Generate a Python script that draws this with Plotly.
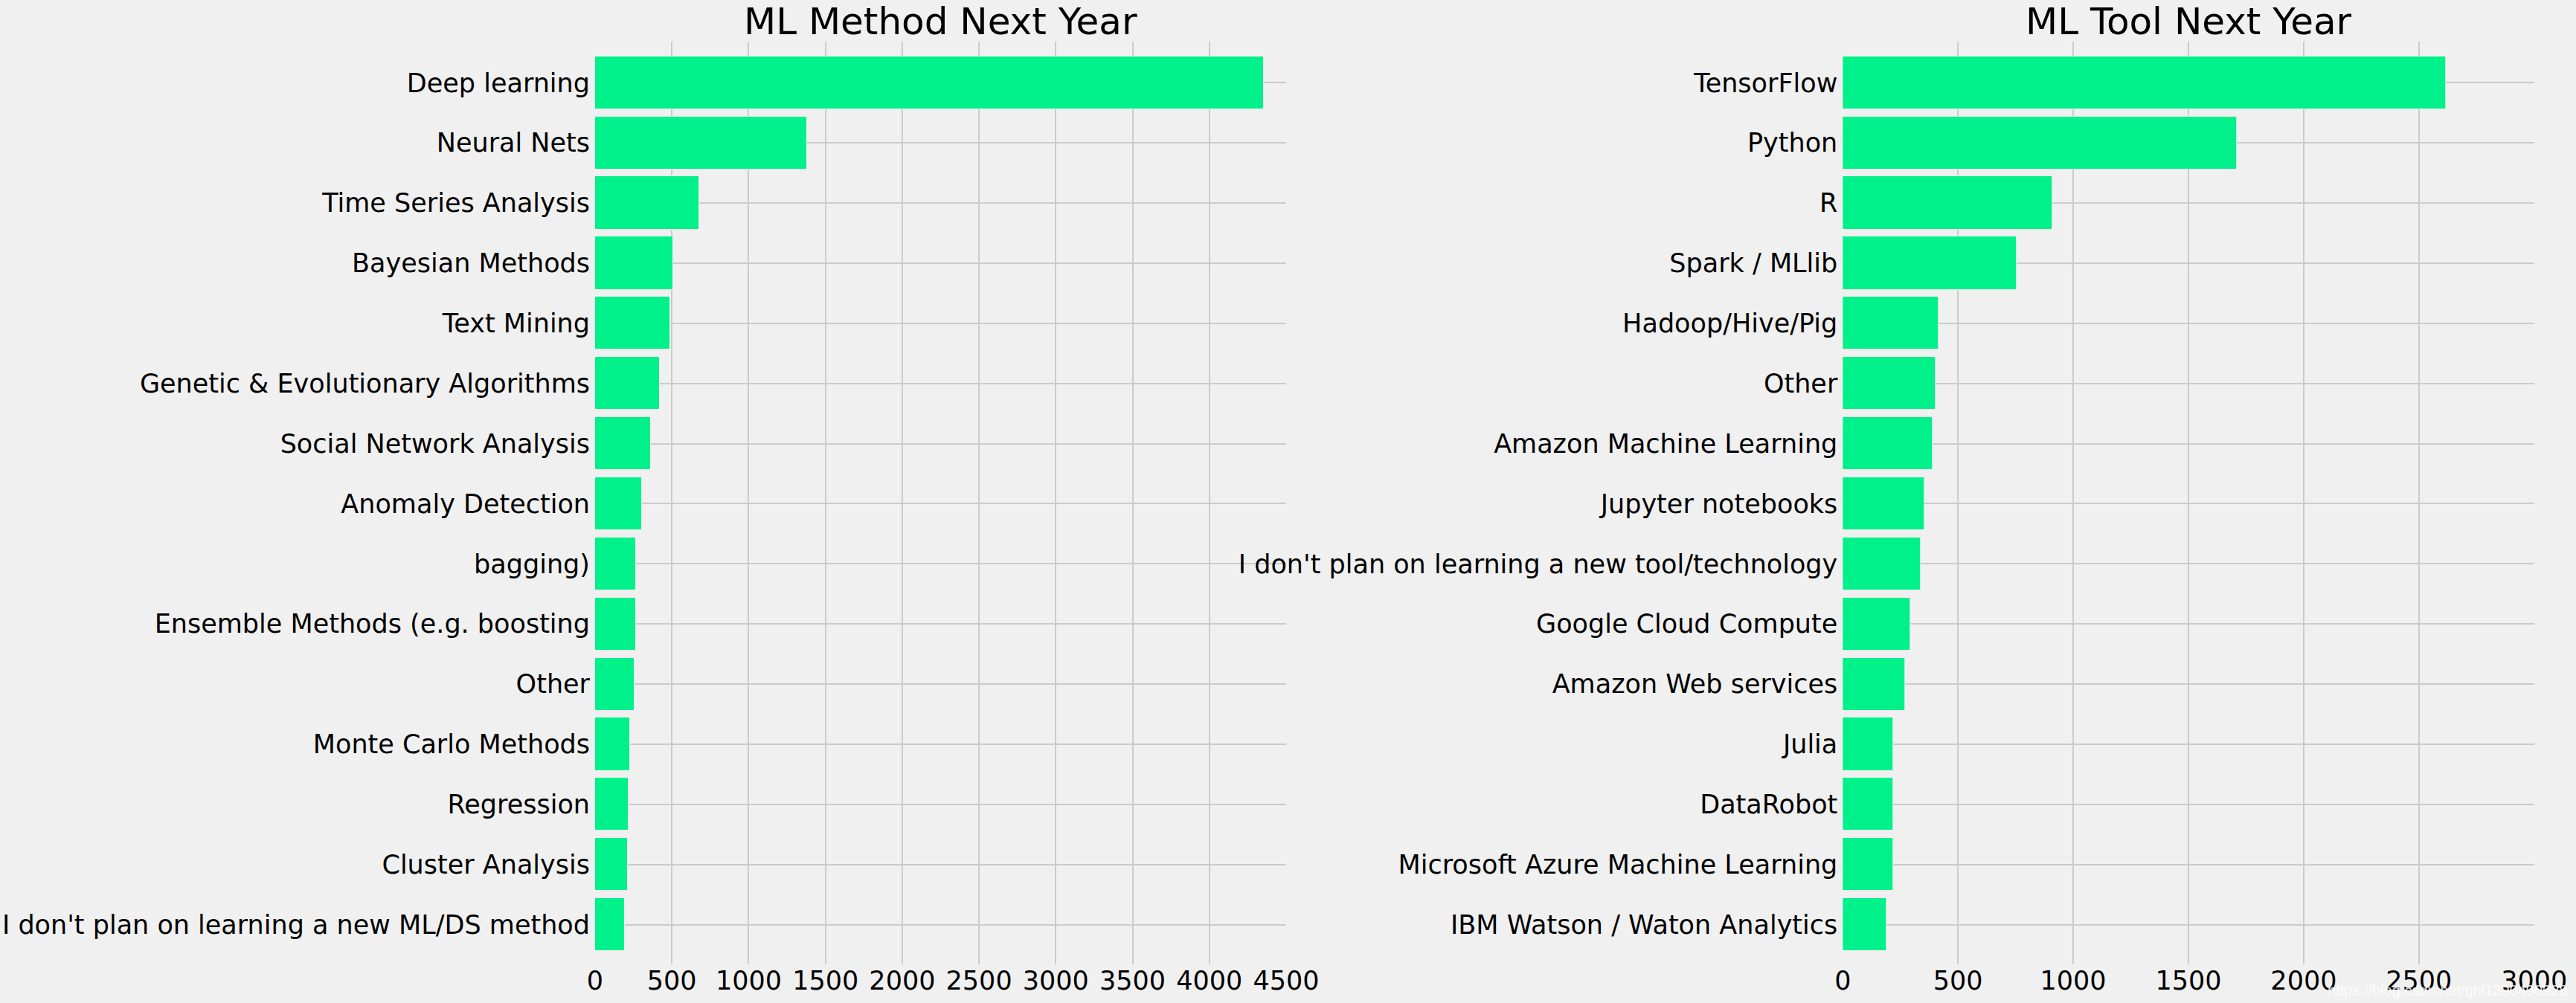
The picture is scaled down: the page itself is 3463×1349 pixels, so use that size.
import plotly.graph_objects as go
from plotly.subplots import make_subplots

# ---- data (top to bottom) ----
method_labels = [
    "Deep learning", "Neural Nets", "Time Series Analysis", "Bayesian Methods",
    "Text Mining", "Genetic & Evolutionary Algorithms", "Social Network Analysis",
    "Anomaly Detection", "bagging)", "Ensemble Methods (e.g. boosting", "Other",
    "Monte Carlo Methods", "Regression", "Cluster Analysis",
    "I don't plan on learning a new ML/DS method",
]
method_counts = [4357, 1381, 676, 507, 488, 420, 362, 304, 265, 265, 256, 227, 217, 212, 193]

tool_labels = [
    "TensorFlow", "Python", "R", "Spark / MLlib", "Hadoop/Hive/Pig", "Other",
    "Amazon Machine Learning", "Jupyter notebooks",
    "I don't plan on learning a new tool/technology", "Google Cloud Compute",
    "Amazon Web services", "Julia", "DataRobot", "Microsoft Azure Machine Learning",
    "IBM Watson / Waton Analytics",
]
tool_counts = [2617, 1710, 909, 755, 417, 404, 391, 356, 340, 295, 272, 221, 218, 218, 191]

method_ticks = [0, 500, 1000, 1500, 2000, 2500, 3000, 3500, 4000, 4500]
tool_ticks = [0, 500, 1000, 1500, 2000, 2500, 3000]

titles = ["ML Method Next Year", "ML Tool Next Year"]

W, H = 3463, 1349
BAR = "#00F08A"
BG = "#f0f0f0"
GRID = "#cbcbcb"
FONT = "DejaVu Sans"

fig = make_subplots(rows=1, cols=2)

fig.add_trace(go.Bar(x=method_counts, y=method_labels, orientation="h",
                     marker=dict(color=BAR, line=dict(color=BG, width=1)),
                     width=0.88, showlegend=False), row=1, col=1)
fig.add_trace(go.Bar(x=tool_counts, y=tool_labels, orientation="h",
                     marker=dict(color=BAR, line=dict(color=BG, width=1)),
                     width=0.88, showlegend=False), row=1, col=2)

n = len(method_labels)
yrange = [n - 1 + 0.66, -0.684]

axis_common = dict(showgrid=True, gridcolor=GRID, gridwidth=2, zeroline=False,
                   showline=False, ticks="", automargin=False,
                   tickfont=dict(family=FONT, size=35, color="black"))

fig.update_xaxes(**axis_common)
fig.update_yaxes(**axis_common)

fig.update_layout(
    xaxis=dict(domain=[800 / W, 1729 / W], range=[0, 4500], tickvals=method_ticks,
               ticktext=[str(t) for t in method_ticks], ticklabelstandoff=-2),
    xaxis2=dict(domain=[2477.3 / W, 3406.7 / W], range=[0, 3000], tickvals=tool_ticks,
                ticktext=[str(t) for t in tool_ticks], ticklabelstandoff=-2),
    yaxis=dict(range=yrange, ticklabelstandoff=6),
    yaxis2=dict(range=yrange, ticklabelstandoff=6),
    width=W, height=H,
    margin=dict(l=0, r=0, t=56, b=52),
    paper_bgcolor=BG, plot_bgcolor=BG,
    font=dict(family=FONT, color="black"),
    bargap=0,
)

centers = [(800 + 1729) / 2 / W, (2477.3 + 3406.7) / 2 / W]
for t, cx in zip(titles, centers):
    fig.add_annotation(text=t, x=cx, y=1, xref="paper", yref="paper",
                       xanchor="center", yanchor="bottom", yshift=-4, showarrow=False,
                       font=dict(family=FONT, size=50, color="black"))

fig.add_annotation(text="https://blog.csdn.net/ghl1390490928", x=1, y=0, xref="paper", yref="paper",
                   xanchor="right", yanchor="top", xshift=-10, yshift=-22, showarrow=False,
                   font=dict(family="Liberation Sans", size=20, color="rgba(255,255,255,0.85)"))

fig.write_html("out.html")
